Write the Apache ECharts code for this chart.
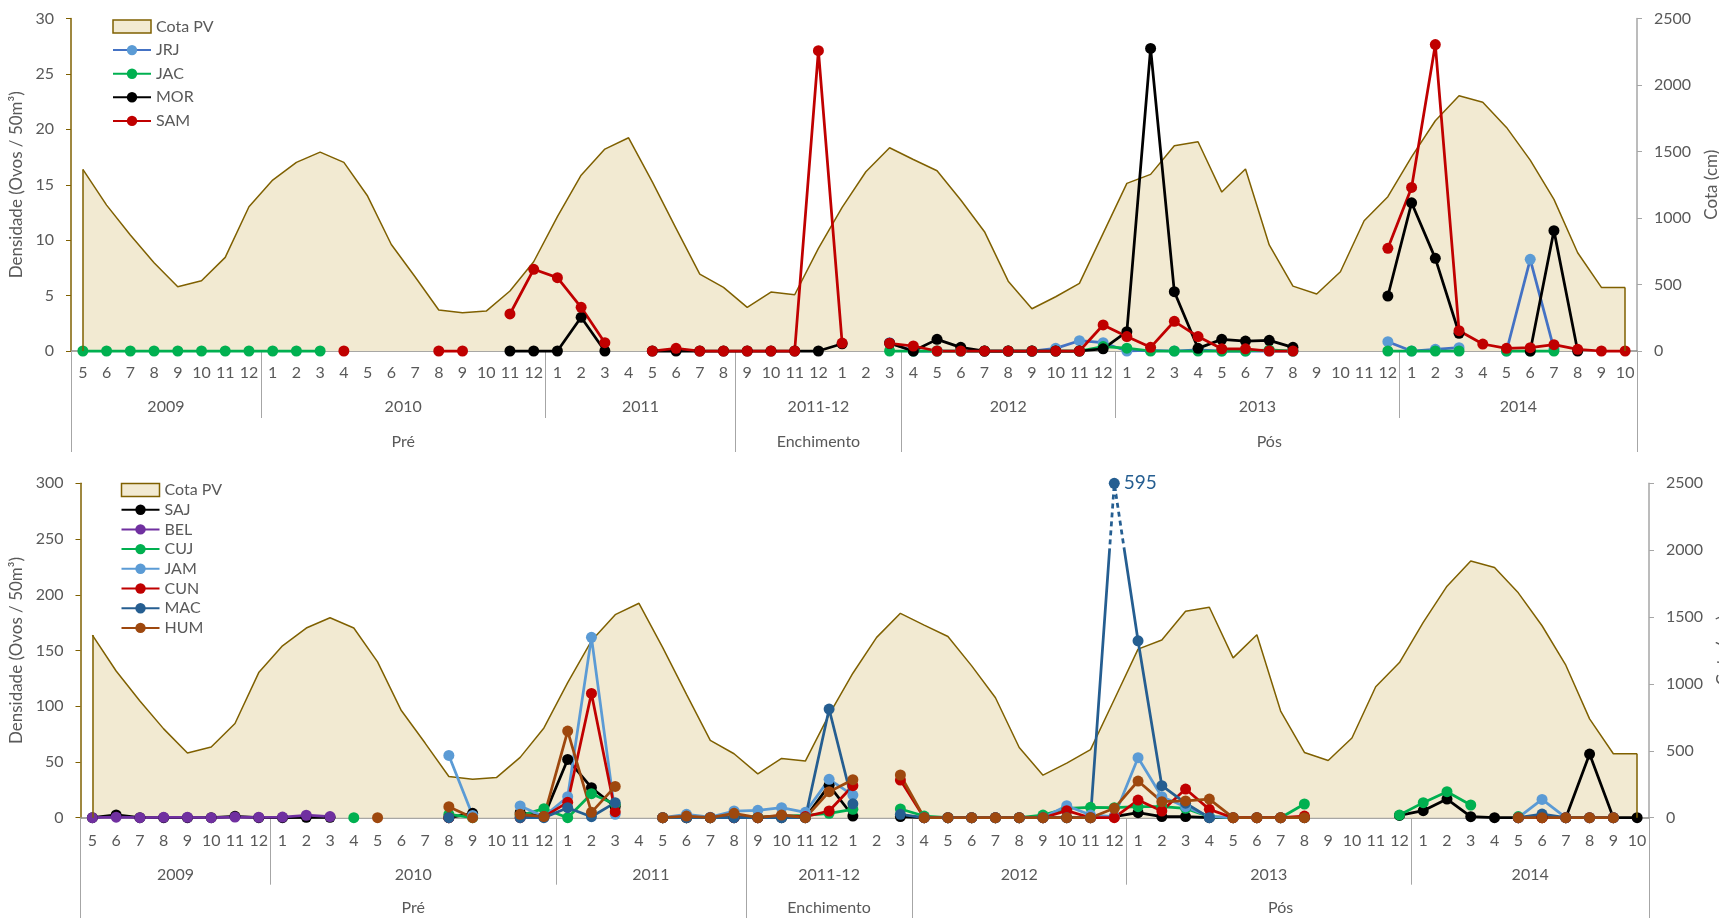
<!DOCTYPE html>
<html lang="pt">
<head>
<meta charset="UTF-8">
<title>Densidade de ovos e Cota PV</title>
<script src="https://cdn.jsdelivr.net/npm/echarts@6/dist/echarts.min.js"></script>
<style>
  html, body { margin: 0; padding: 0; background: #fff; }
  #chart { width: 1719px; height: 918px; }
</style>
</head>
<body>
<div id="chart"></div>
<script>
const _ = null;

// eixo x: meses, anos e fases
const months = [].concat(
  ['5', '6', '7', '8', '9', '10', '11', '12'],
  ['1', '2', '3', '4', '5', '6', '7', '8', '9', '10', '11', '12'],
  ['1', '2', '3', '4', '5', '6', '7', '8'],
  ['9', '10', '11', '12', '1', '2', '3'],
  ['4', '5', '6', '7', '8', '9', '10', '11', '12'],
  ['1', '2', '3', '4', '5', '6', '7', '8', '9', '10', '11', '12'],
  ['1', '2', '3', '4', '5', '6', '7', '8', '9', '10']
);
const years = [['2009', 8], ['2010', 12], ['2011', 8], ['2011-12', 7], ['2012', 9], ['2013', 12], ['2014', 10]];
const phases = [['Pré', 28], ['Enchimento', 7], ['Pós', 31]];

// Cota PV (cm), igual nos dois painéis
const cota = [1365, 1097, 872, 664, 483, 528, 704, 1085,
  1285, 1418, 1495, 1418, 1165, 801, 558, 308, 288, 300, 451, 671,
  1010, 1322, 1518, 1603, 1272, 922, 578, 478,
  328, 443, 423, 771, 1080, 1348, 1528,
  1440, 1355, 1135, 897, 525, 318, 408, 509, 884,
  1260, 1328, 1543, 1573, 1195, 1368, 797, 488, 428, 596, 979, 1160,
  1460, 1731, 1919, 1871, 1681, 1435, 1140, 739, 478, 478];

// painel de cima (Ovos / 50m3)
const jrj = [_, _, _, _, _, _, _, _,
  _, _, _, _, _, _, _, _, _, _, _, _,
  _, _, _, _, _, _, _, _,
  _, _, _, _, _, _, 0.75,
  0, 0, 0, 0, 0, 0, 0.24, 0.93, 0.75,
  0, 0.05, 0, 0.1, 0, 0, 0, 0, _, _, _, 0.84,
  0, 0.15, 0.3, _, 0, 8.27, 0.2, _, _, _];
const jac = [0, 0, 0, 0, 0, 0, 0, 0,
  0, 0, 0, _, _, _, _, _, _, _, _, _,
  _, _, _, _, _, _, _, _,
  _, _, _, _, _, _, 0,
  0, 0, 0, 0, 0, 0, 0, 0, 0.4,
  0.25, 0, 0, 0, 0, 0, 0.1, 0, _, _, _, 0,
  0, 0, 0, _, 0, 0, 0, _, _, _];
const mor = [_, _, _, _, _, _, _, _,
  _, _, _, _, _, _, _, _, _, _, 0, 0,
  0, 3.04, 0, _, 0, 0, 0, 0,
  0, 0, 0, 0, 0.65, _, 0.7,
  0, 1.05, 0.33, 0, 0, 0, 0, 0, 0.2,
  1.74, 27.3, 5.35, 0.24, 1.05, 0.9, 0.96, 0.33, _, _, _, 4.96,
  13.37, 8.36, 1.6, _, _, 0, 10.86, 0, _, _];
const sam = [_, _, _, _, _, _, _, _,
  _, _, _, 0, _, _, _, 0, 0, _, 3.34, 7.37,
  6.62, 3.94, 0.75, _, 0, 0.24, 0, 0,
  0, 0, 0, 27.1, 0.72, _, 0.7,
  0.45, 0, 0, 0, 0, 0, 0, 0, 2.35,
  1.3, 0.33, 2.68, 1.3, 0.2, 0.2, 0, 0, _, _, _, 9.26,
  14.76, 27.65, 1.83, 0.63, 0.24, 0.3, 0.57, 0.15, 0, 0];

// painel de baixo (Ovos / 50m3)
const saj = [0, 2.5, 0, 0, 0, 0, 1.2, 0,
  0, 0.3, 0.3, _, _, _, _, 0, 3.9, _, 4.5, 1,
  52.3, 26.9, 10, _, 0, 0, 0, 0,
  0, 0, 0, 29, 1.5, _, 1,
  0, 0, 0, 0, 0, 0, 0, 0, 1,
  4.5, 1, 1, 0, 0, 0, 0, 0, _, _, _, 2,
  6.3, 16.7, 0.9, 0, 0, 0, 0, 57.1, 0, 0];
const bel = [0, 0.5, 0, 0.3, 0.4, 0, 0.6, 0.4,
  0.6, 2.2, 1.0, _, _, _, _, _, _, _, _, _,
  _, _, _, _, _, _, _, _,
  _, _, _, _, _, _, _,
  _, _, _, _, _, _, _, _, _,
  _, _, _, _, _, _, _, _, _, _, _, _,
  _, _, _, _, _, _, _, _, _, _];
const cuj = [_, _, _, _, _, _, _, _,
  _, _, _, 0, _, _, _, 3, 0, _, 2, 8.1,
  0, 21.5, 12, _, 0, 0, 0, 0.5,
  0.5, 1.5, 2, 3.9, 7.5, _, 7.8,
  1.5, 0, 0, 0, 0, 2.4, 8.4, 9.3, 9,
  9.9, 9.9, 8.4, 1, 0, 0, 0, 12.3, _, _, _, 2.4,
  13.5, 23.3, 11.4, _, 1, _, _, _, _, _];
const jam = [_, _, _, _, _, _, _, _,
  _, _, _, _, _, _, _, 55.9, 2, _, 10.5, 1,
  18.8, 161.8, 3, _, 0, 3, 0.5, 6,
  6.6, 9, 4.8, 34.4, 20.3, _, _,
  0, 0, 0, 0, 0, 0, 10.8, 2.4, 1,
  53.8, 18.8, 9.9, 1, 0, 0, 0, _, _, _, _, _,
  _, _, _, _, 0, 16.4, 0, 0, 0, _];
const cun = [_, _, _, _, _, _, _, _,
  _, _, _, _, _, _, _, 0, _, _, 0, 1,
  13.8, 111.5, 5.4, _, 0, 0, 0, 0,
  0, 1.8, 1, 6, 28.7, _, 33.8,
  0, 0, 0, 0, 0, 0, 6.3, 0, 0,
  15.8, 6, 25.7, 7.5, 0, 0, 0, 1.5, _, _, _, _,
  _, _, _, _, 0, 0, 0, 0, 0, _];
const mac = [_, _, _, _, _, _, _, _,
  _, _, _, _, _, _, _, 0, _, _, 0, 0,
  9, 0.9, 13.5, _, 0, 0, 0, 0,
  0, 0, 0, 97.5, 12.5, _, 3,
  0, 0, 0, 0, 0, 0, 0, 0, 595,
  158.7, 28.7, 13, 0, _, _, _, _, _, _, _, _,
  _, _, _, _, 0, 3.3, 0, 0, 0, _];
const hum = [_, _, _, _, _, _, _, _,
  _, _, _, _, 0, _, _, 9.9, 0, _, 3, 1,
  77.7, 4.8, 28.1, _, 0, 1.5, 0, 3.9,
  0, 2.4, 0, 23.3, 34.1, _, 38.3,
  0, 0, 0, 0, 0, 0, 0, 0, 8.4,
  32.9, 14.4, 15, 16.7, 0, 0, 0, 0, _, _, _, _,
  _, _, _, _, 0, 0, 0, 0, 0, _];

const FONT = 'Lato, "Open Sans", sans-serif';
const TXT = '#595959';
const BROWN = '#7F6000';
const BEIGE = '#F2EAD2';

// limites e centros dos grupos do eixo x
function bounds(groups) {
  let s = -0.5;
  const out = [s];
  groups.forEach(g => { s += g[1]; out.push(s); });
  return out;
}
function mids(groups) {
  let s = 0;
  return groups.map(g => { const m = s + (g[1] - 1) / 2; s += g[1]; return m; });
}
function nameAt(groups, v) {
  const m = mids(groups);
  const i = m.findIndex(x => Math.abs(x - v) < 1e-6);
  return i >= 0 ? groups[i][0] : '';
}

const panels = [
  { grid: { left: 71, top: 18.5, width: 1566, height: 332.5 }, yMax: 30, yStep: 5,
    legend: { left: 107, top: 13.5, gap: 7.6 },
    monthTick: 33, yearTick: 67, phaseTick: 101, monthMargin: 14, yearMargin: 48, phaseMargin: 83 },
  { grid: { left: 80.5, top: 483.3, width: 1568.5, height: 334.4 }, yMax: 300, yStep: 50,
    legend: { left: 115.5, top: 477, gap: 3.7 },
    monthTick: 34, yearTick: 67, phaseTick: 101, monthMargin: 15, yearMargin: 49, phaseMargin: 82 }
];

const grids = [], xAxes = [], yAxes = [], legends = [], series = [];
const last = months.length - 1;

panels.forEach((p, gi) => {
  grids.push(Object.assign({ containLabel: false, outerBoundsMode: 'none' }, p.grid));
  const label = { fontSize: 16, color: TXT, fontFamily: FONT };
  xAxes.push({
    type: 'category', gridIndex: gi, data: months, position: 'bottom', boundaryGap: true,
    axisLine: { onZero: false, lineStyle: { color: '#8c8a86', width: 1.5 } },
    axisTick: { interval: 0, length: p.monthTick, lineStyle: { color: '#c4c4c4' } },
    axisLabel: Object.assign({ interval: 0, margin: p.monthMargin }, label)
  });
  xAxes.push({
    type: 'value', gridIndex: gi, min: -0.5, max: last + 0.5, position: 'bottom',
    axisLine: { show: false, onZero: false }, splitLine: { show: false },
    axisTick: { show: true, customValues: bounds(years), length: p.yearTick, lineStyle: { color: '#a6a6a6' } },
    axisLabel: Object.assign({ customValues: mids(years), formatter: v => nameAt(years, v), margin: p.yearMargin }, label)
  });
  xAxes.push({
    type: 'value', gridIndex: gi, min: -0.5, max: last + 0.5, position: 'bottom',
    axisLine: { show: false, onZero: false }, splitLine: { show: false },
    axisTick: { show: true, customValues: bounds(phases), length: p.phaseTick, lineStyle: { color: '#a6a6a6' } },
    axisLabel: Object.assign({ customValues: mids(phases), formatter: v => nameAt(phases, v), margin: p.phaseMargin }, label)
  });
  yAxes.push({
    type: 'value', gridIndex: gi, position: 'left', min: 0, max: p.yMax, interval: p.yStep,
    name: 'Densidade (Ovos / 50m³)', nameLocation: 'middle', nameGap: 37,
    nameTextStyle: { fontSize: 17, color: TXT, fontFamily: FONT },
    axisLine: { show: true, onZero: false, lineStyle: { color: BROWN, width: 1.5 } },
    axisTick: { show: true, length: 5, lineStyle: { color: BROWN } },
    axisLabel: Object.assign({ margin: 17, formatter: v => String(v) }, label),
    splitLine: { show: false }
  });
  yAxes.push({
    type: 'value', gridIndex: gi, position: 'right', min: 0, max: 2500, interval: 500,
    name: 'Cota (cm)', nameLocation: 'middle', nameGap: 66,
    nameTextStyle: { fontSize: 17, color: TXT, fontFamily: FONT },
    axisLine: { show: true, onZero: false, lineStyle: { color: '#a6a6a6', width: 1.5 } },
    axisTick: { show: true, length: 5, lineStyle: { color: '#a6a6a6' } },
    axisLabel: Object.assign({ margin: 17, formatter: v => String(v) }, label),
    splitLine: { show: false }
  });
});

function cotaSeries(gi) {
  return {
    name: 'Cota PV', type: 'line', xAxisIndex: gi * 3, yAxisIndex: gi * 2 + 1,
    data: cota, symbol: 'none', z: 1, silent: true,
    lineStyle: { color: BROWN, width: 1.5 },
    itemStyle: { color: BROWN },
    areaStyle: { color: BEIGE, opacity: 1 },
    markLine: {
      silent: true, symbol: ['none', 'none'], label: { show: false },
      lineStyle: { color: BROWN, width: 1.5, type: 'solid' },
      data: [
        [{ coord: [0, 0] }, { coord: [0, cota[0]] }],
        [{ coord: [last, 0] }, { coord: [last, cota[last]] }]
      ]
    }
  };
}

function line(gi, name, data, color, lineColor) {
  return {
    name: name, type: 'line', xAxisIndex: gi * 3, yAxisIndex: gi * 2,
    data: data, symbol: 'circle', symbolSize: 11, z: 3, clip: false,
    lineStyle: { color: lineColor || color, width: 2.75 },
    itemStyle: { color: color }
  };
}

// painel de cima
series.push(cotaSeries(0));
series.push(line(0, 'JRJ', jrj, '#5B9BD5', '#4472C4'));
series.push(line(0, 'JAC', jac, '#00B050'));
series.push(line(0, 'MOR', mor, '#000000'));
series.push(line(0, 'SAM', sam, '#C00000'));

// painel de baixo: MAC passa do máximo do eixo (595), desenha-se no topo
const capBottom = panels[1].yMax;
const macShown = mac.map(v => v !== null && v > capBottom
  ? { value: capBottom, label: { show: true, position: 'right', distance: 4, formatter: String(v),
      fontSize: 19, color: '#255E91', fontFamily: FONT } }
  : v);
const macBreak = mac.map((v, i) => {
  const near = [i - 1, i, i + 1].some(j => mac[j] !== undefined && mac[j] !== null && mac[j] > capBottom);
  return near && v !== null ? Math.min(v, capBottom) : null;
});

series.push(cotaSeries(1));
series.push(line(1, 'SAJ', saj, '#000000'));
series.push(line(1, 'BEL', bel, '#7030A0'));
series.push(line(1, 'CUJ', cuj, '#00B050'));
series.push(line(1, 'JAM', jam, '#5B9BD5'));
series.push(line(1, 'CUN', cun, '#C00000'));
series.push(line(1, 'MAC', macShown, '#255E91'));
series.push(line(1, 'HUM', hum, '#9E480E'));
const breakIndex = series.length;
series.push({
  name: 'MAC-quebra', type: 'line', xAxisIndex: 3, yAxisIndex: 2, data: macBreak,
  symbol: 'none', z: 4, silent: true, clip: false,
  lineStyle: { width: 4.5, type: [4, 5] }
});

const legendBase = {
  orient: 'vertical', itemWidth: 38, itemHeight: 13, selectedMode: false,
  textStyle: { fontSize: 16, color: TXT, fontFamily: FONT, lineHeight: 16 }
};
const cotaLegend = { name: 'Cota PV', icon: 'rect', itemStyle: { color: BEIGE, borderColor: BROWN, borderWidth: 1.5 } };
legends.push(Object.assign({}, legendBase, {
  left: panels[0].legend.left, top: panels[0].legend.top, itemGap: panels[0].legend.gap,
  data: [cotaLegend, 'JRJ', 'JAC', 'MOR', 'SAM']
}));
legends.push(Object.assign({}, legendBase, {
  left: panels[1].legend.left, top: panels[1].legend.top, itemGap: panels[1].legend.gap,
  data: [cotaLegend, 'SAJ', 'BEL', 'CUJ', 'JAM', 'CUN', 'MAC', 'HUM']
}));

const chart = echarts.init(document.getElementById('chart'));
chart.setOption({
  animation: false,
  backgroundColor: '#ffffff',
  textStyle: { fontFamily: FONT },
  grid: grids,
  xAxis: xAxes,
  yAxis: yAxes,
  legend: legends,
  visualMap: [{
    type: 'piecewise', show: false, seriesIndex: breakIndex, dimension: 1,
    pieces: [{ gte: 240, lte: 293, color: '#ffffff' }],
    outOfRange: { color: 'rgba(255,255,255,0)' }
  }],
  series: series
});
</script>
</body>
</html>
